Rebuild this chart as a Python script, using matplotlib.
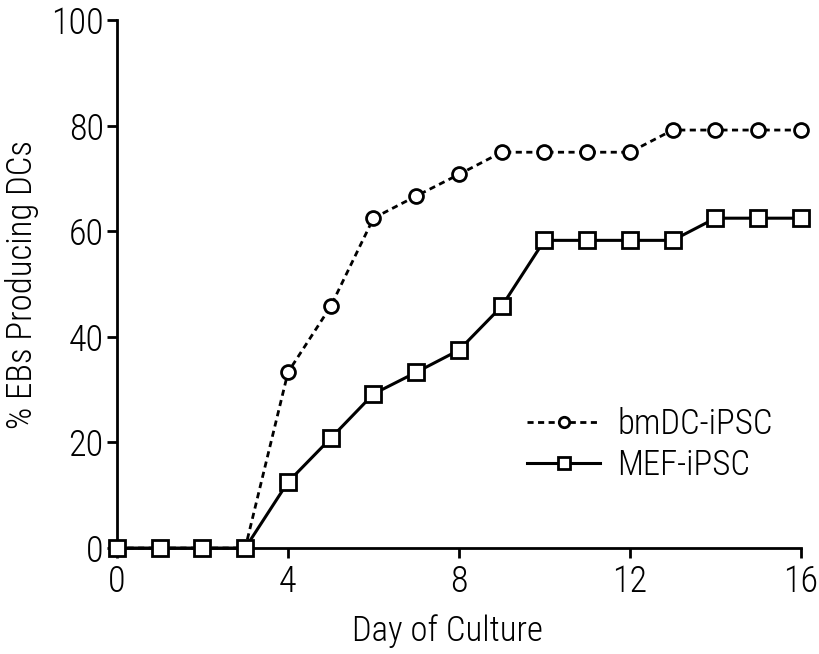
import matplotlib.pyplot as plt

plt.rcParams['font.family'] = ['Roboto Condensed', 'DejaVu Sans']
plt.rcParams['font.stretch'] = 'condensed'
plt.rcParams['font.weight'] = 'light'

days = list(range(17))
bmdc_ipsc = [0, 0, 0, 0, 33.3, 45.8, 62.5, 66.7, 70.8, 75.0, 75.0, 75.0, 75.0,
             79.2, 79.2, 79.2, 79.2]
mef_ipsc = [0, 0, 0, 0, 12.5, 20.8, 29.2, 33.3, 37.5, 45.8, 58.3, 58.3, 58.3,
            58.3, 62.5, 62.5, 62.5]
x_ticks = [0, 4, 8, 12, 16]
y_ticks = [0, 20, 40, 60, 80, 100]

fig = plt.figure(figsize=(8.2, 6.54), dpi=100)
ax = fig.add_axes([0.1427, 0.162, 0.834, 0.807])

ax.plot(days, bmdc_ipsc, color='black', linestyle=(0, (2.2, 1.6)), linewidth=2,
        marker='o', markersize=10, markerfacecolor='white', markeredgewidth=2,
        label='bmDC-iPSC', clip_on=False, zorder=3)
ax.plot(days, mef_ipsc, color='black', linestyle='-', linewidth=2.2,
        marker='s', markersize=11, markerfacecolor='white', markeredgewidth=2,
        label='MEF-iPSC', clip_on=False, zorder=4)

ax.set_xlim(0, 16)
ax.set_ylim(0, 100)
ax.set_xticks(x_ticks)
ax.set_yticks(y_ticks)
ax.tick_params(axis='both', labelsize=26, width=2, length=7.5, direction='out')
ax.tick_params(axis='y', pad=2)
ax.tick_params(axis='x', pad=4)
for side in ('top', 'right'):
    ax.spines[side].set_visible(False)
for side in ('left', 'bottom'):
    ax.spines[side].set_linewidth(2)

ax.set_xlabel('Day of Culture', fontsize=25, fontweight='light')
ax.xaxis.set_label_coords(0.483, -0.125)
ax.set_ylabel('% EBs Producing DCs', fontsize=25, fontweight='light', labelpad=9)

ax.legend(loc='center left', bbox_to_anchor=(0.643, 0.32), bbox_transform=fig.transFigure,
          frameon=False, fontsize=25, handlelength=2.1, handletextpad=0.5,
          labelspacing=0.2, borderpad=0, borderaxespad=0, markerscale=0.75)

fig.savefig('out.png', dpi=100)
